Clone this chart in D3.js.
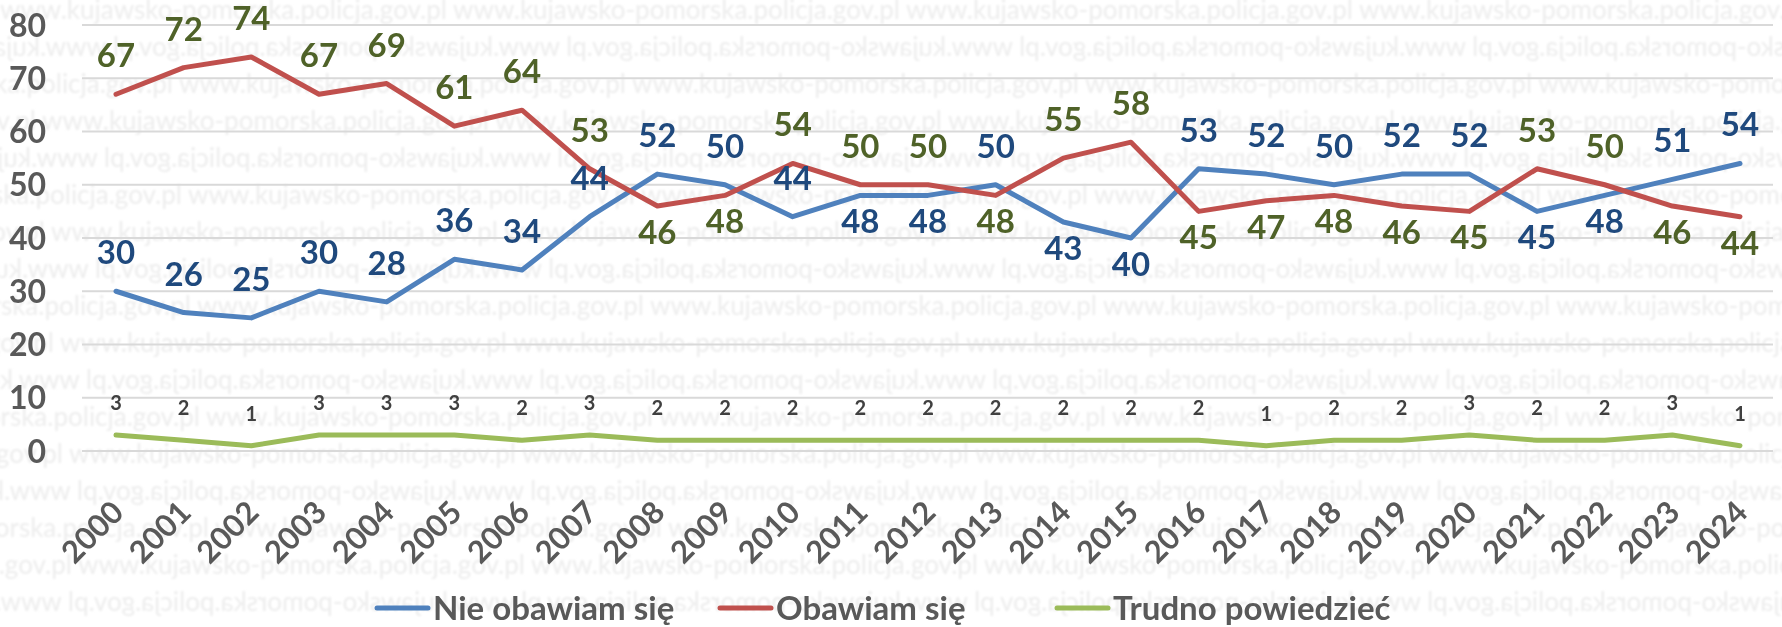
<!DOCTYPE html>
<html>
<head>
<meta charset="utf-8">
<script src="https://cdn.jsdelivr.net/npm/d3@7"></script>
<style>
  body { margin: 0; background: #fff; }
  svg { display: block; font-family: Lato, "Open Sans", sans-serif; }
</style>
</head>
<body>
<svg id="chart" width="1782" height="627"></svg>
<script>
var years = ["2000","2001","2002","2003","2004","2005","2006","2007","2008","2009","2010","2011","2012",
  "2013","2014","2015","2016","2017","2018","2019","2020","2021","2022","2023","2024"];
var nieObawiam = [30,26,25,30,28,36,34,44,52,50,44,48,48,50,43,40,53,52,50,52,52,45,48,51,54];
var obawiam    = [67,72,74,67,69,61,64,53,46,48,54,50,50,48,55,58,45,47,48,46,45,53,50,46,44];
var trudno     = [3,2,1,3,3,3,2,3,2,2,2,2,2,2,2,2,2,1,2,2,3,2,2,3,1];
var yTicks = [0,10,20,30,40,50,60,70,80];
var seriesNames = ["Nie obawiam się", "Obawiam się", "Trudno powiedzieć"];
// a = label above the point, b = below
var niePos = "aaaaaaaaaaabbabbaaaaabbaa".split("");
var obaPos = "aaaaaaaabbaaabaabbbbbaabb".split("");

var svg = d3.select("#chart");

svg.append("defs").append("filter").attr("id", "soft")
  .append("feGaussianBlur").attr("stdDeviation", 0.9);

// faint watermark rows in the background
var wm = "www.kujawsko-pomorska.policja.gov.pl ";
var wmText = wm + wm + wm + wm + wm + wm + wm;
var wmG = svg.append("g").attr("class", "watermark").attr("filter", "url(#soft)");
d3.range(17).forEach(function(i) {
  var y = 10 + i * 37;
  var flip = (i % 3 === 1);
  wmG.append("text")
    .attr("transform", flip ? "translate(1782," + y + ") scale(-1,1)" : "translate(0," + y + ")")
    .attr("x", -((i * 137) % 420))
    .attr("dy", "0.35em")
    .style("font-size", "26px")
    .style("fill", "#ededed")
    .text(wmText);
});

var x = d3.scalePoint().domain(years).range([116, 1740]);
var y = d3.scaleLinear().domain([0, 80]).range([451, 25]);

// gridlines
svg.append("g").selectAll("line").data(yTicks).enter().append("line")
  .attr("x1", 82).attr("x2", 1773)
  .attr("y1", function(d) { return y(d); }).attr("y2", function(d) { return y(d); })
  .style("stroke", "#d9d9d9").style("stroke-width", "2px");

// y axis labels
svg.append("g").selectAll("text").data(yTicks).enter().append("text")
  .attr("x", 46).attr("y", function(d) { return y(d); })
  .attr("dy", "0.36em")
  .attr("text-anchor", "end")
  .style("font-size", "32px").style("font-weight", "bold").style("fill", "#595959")
  .text(function(d) { return d; });

// x axis labels
svg.append("g").selectAll("text").data(years).enter().append("text")
  .attr("transform", function(d) { return "translate(" + (x(d) - 6) + ",499) rotate(-45)"; })
  .attr("text-anchor", "end")
  .attr("dy", "0.7em")
  .style("font-size", "31px").style("font-weight", "bold").style("fill", "#595959")
  .text(function(d) { return d; });

var line = d3.line()
  .x(function(d, i) { return x(years[i]); })
  .y(function(d) { return y(d); });

var series = [
  { values: nieObawiam, color: "#4f81bd" },
  { values: obawiam, color: "#c0504d" },
  { values: trudno, color: "#9bbb59" }
];
svg.append("g").selectAll("path").data(series).enter().append("path")
  .attr("d", function(d) { return line(d.values); })
  .style("fill", "none")
  .style("stroke", function(d) { return d.color; })
  .style("stroke-width", "5px")
  .style("stroke-linejoin", "round")
  .style("stroke-linecap", "round");

function bigLabels(values, pos, color) {
  svg.append("g").selectAll("text").data(values).enter().append("text")
    .attr("x", function(d, i) { return x(years[i]); })
    .attr("y", function(d, i) { return pos[i] === "a" ? y(d) - 27 : y(d) + 38; })
    .attr("text-anchor", "middle")
    .style("font-size", "33px").style("font-weight", "bold").style("fill", color)
    .text(function(d) { return d; });
}
bigLabels(nieObawiam, niePos, "#1f497d");
bigLabels(obawiam, obaPos, "#4f6228");

svg.append("g").selectAll("text").data(trudno).enter().append("text")
  .attr("x", function(d, i) { return x(years[i]); })
  .attr("y", function(d) { return y(d) - 25; })
  .attr("text-anchor", "middle")
  .style("font-size", "20px").style("font-weight", "bold").style("fill", "#404040")
  .text(function(d) { return d; });

// legend
var legendX = [377, 720, 1057];
var lg = svg.append("g").selectAll("g").data(seriesNames).enter().append("g")
  .attr("transform", function(d, i) { return "translate(" + legendX[i] + ",608)"; });
lg.append("line")
  .attr("x1", 0).attr("x2", 51)
  .style("stroke", function(d, i) { return series[i].color; })
  .style("stroke-width", "5px").style("stroke-linecap", "round");
lg.append("text")
  .attr("x", 56).attr("dy", "0.36em")
  .style("font-size", "33px").style("font-weight", "bold").style("fill", "#595959")
  .text(function(d) { return d; });
</script>
</body>
</html>
